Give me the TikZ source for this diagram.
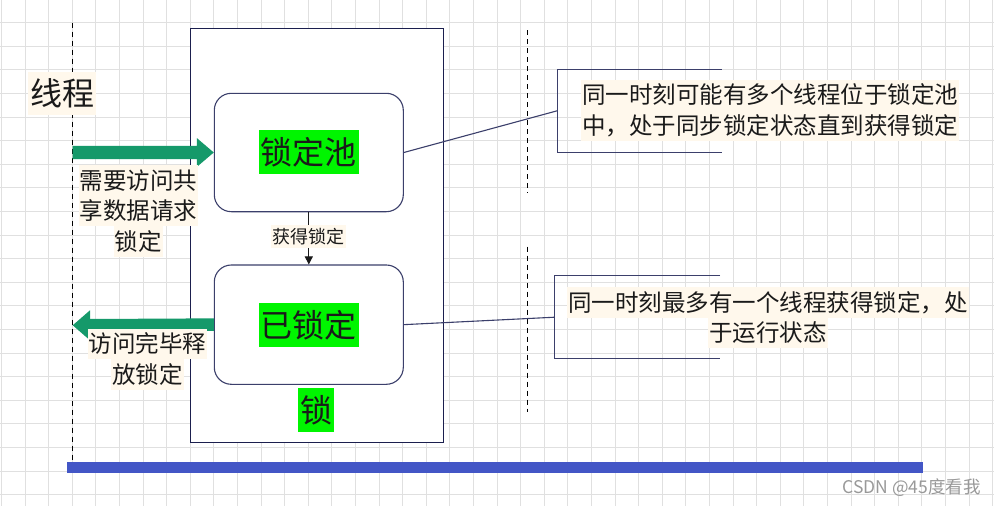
\documentclass[tikz,border=0pt]{standalone}
\usepackage{fontspec}
\setmainfont{Noto Sans CJK SC}
\usetikzlibrary{arrows.meta,calc}
\definecolor{cream}{HTML}{FFF8EC}
\definecolor{gridc}{HTML}{E0E0E0}
\definecolor{lockgreen}{HTML}{00F500}
\definecolor{arrowgreen}{HTML}{15996A}
\definecolor{barblue}{HTML}{4356C6}
\definecolor{navy}{HTML}{1B1F4E}
\definecolor{connc}{HTML}{3B3F6B}
\definecolor{txt}{HTML}{1A1A1A}
\newcommand\crebg[1]{{\setlength\fboxsep{0pt}\colorbox{cream}{\rule[-6.5pt]{0pt}{30.5pt}\hspace{1pt}#1\hspace{1pt}}}}
\tikzset{
  gridline/.style={draw=gridc, line width=1pt},
  dashline/.style={draw=black, line width=1.2pt, dash pattern=on 5pt off 4pt},
  outerbox/.style={draw=navy, fill=white, line width=1.2pt, inner sep=0pt},
  roundbox/.style={draw=connc, fill=white, line width=1.1pt, rounded corners=17pt, inner sep=0pt, minimum width=189pt},
  glab/.style={fill=lockgreen, text=txt, inner xsep=1.8pt, inner ysep=0pt, text height=34.2pt, text depth=10pt, font=\fontsize{32}{38}\selectfont},
  thlab/.style={fill=cream, text=txt, inner xsep=1.85pt, inner ysep=0pt, text height=33.8pt, text depth=9.5pt, font=\fontsize{32}{38}\selectfont},
  smalllab/.style={fill=cream, text=txt, inner xsep=1.35pt, inner ysep=0pt, text height=18.2pt, text depth=4.5pt, font=\fontsize{18}{22}\selectfont},
  blocktxt/.style={text=txt, inner sep=0pt, font=\fontsize{23.5}{30.5}\selectfont},
  conn/.style={draw=connc, line width=1.1pt},
  calloutarea/.style={inner sep=0pt},
  garrow/.style={fill=arrowgreen},
}
\begin{document}
\begin{tikzpicture}[x=1pt,y=-1pt]
\useasboundingbox (0,0) rectangle (994,506);
\fill[white] (0,0) rectangle (994,506);
% grid
\foreach \i in {0,...,42} \draw[gridline] ({1.4+23.6*\i},0) -- ({1.4+23.6*\i},506);
\foreach \j in {0,...,20} \draw[gridline] (0,{22.7+23.6*\j}) -- (994,{22.7+23.6*\j});
% outer lock box
\node[outerbox, minimum width=252.6pt, minimum height=414pt] (lock) at (317,235.3) {};
% dashed lines
\coordinate (dA1) at (72.7,22.7);
\coordinate (dA2) at (72.7,462);
\coordinate (dB1) at (527.3,30);
\coordinate (dB2) at (527.3,193);
\coordinate (dC1) at (527.3,246.7);
\coordinate (dC2) at (527.3,411.7);
\draw[dashline] (dA1) -- (dA2);
\draw[dashline] (dB1) -- (dB2);
\draw[dashline] (dC1) -- (dC2);
% blue bar
\fill[barblue] (67,462) rectangle (922.7,472.7);
% inner boxes
\node[roundbox, minimum height=118.4pt] (b1) at (308.8,152.5) {};
\node[roundbox, minimum height=119.3pt] (b2) at (308.8,324.65) {};
\node[glab] (t1) at (308.8,152.2) {锁定池};
\node[glab] (t2) at (308.8,325.3) {已锁定};
\node[glab] (t3) at (316.2,410.3) {锁};
% small arrow between boxes
\draw[draw=txt, line width=1pt, -{Triangle[length=8pt,width=8pt]}] (b1.south) -- (b2.north)
  node[smalllab, pos=0.46] (acq) {获得锁定};
% green arrows
\coordinate (a1s) at (72.7,152.5);
\fill[garrow] ($(a1s)+(0,-6.65)$) -- ($(b1.west)+(-17,-6.65)$) -- ($(b1.west)+(-17,-14.5)$) -- (b1.west)
  -- ($(b1.west)+(-17,14.5)$) -- ($(b1.west)+(-17,6.65)$) -- ($(a1s)+(0,6.65)$) -- cycle;
\coordinate (a2e) at (72.7,325.3);
\fill[garrow] ($(b2.west)+(0,-6.3)$) -- ($(a2e)+(17.3,-6.3)$) -- ($(a2e)+(17.3,-15)$) -- (a2e)
  -- ($(a2e)+(17.3,15)$) -- ($(a2e)+(17.3,6.3)$) -- ($(b2.west)+(0,6.3)$) -- cycle;
% labels
\node[thlab] (thread) at (62.2,93.35) {线程};
\node[blocktxt, align=center] (req) at (138.3,211) {\crebg{需要访问共}\\\crebg{享数据请求}\\\crebg{锁定}};
\node[blocktxt, align=center] (rel) at (147.3,359.2) {\crebg{访问完毕释}\\\crebg{放锁定}};
% callouts
\node[calloutarea, minimum width=164.4pt, minimum height=83pt] (c1) at (639.5,110.8) {};
\node[calloutarea, minimum width=165pt, minimum height=82.3pt] (c2) at (637.5,317.2) {};
\draw[conn] (c1.north east) -- (c1.north west) -- (c1.south west) -- (c1.south east);
\draw[conn] (c2.north east) -- (c2.north west) -- (c2.south west) -- (c2.south east);
\draw[conn] (b1.east) -- (c1.west);
\draw[conn] (b2.east) -- (c2.west);
\node[blocktxt, align=left] (n1) at (770,110.3) {\crebg{同一时刻可能有多个线程位于锁定池}\\\crebg{中，处于同步锁定状态直到获得锁定}};
\node[blocktxt, align=center] (n2) at (768,317.5) {\crebg{同一时刻最多有一个线程获得锁定，处}\\\crebg{于运行状态}};
% watermark
\node[text=black!40, inner sep=0pt, font=\fontsize{17.5}{20}\selectfont] (wm) at (911.5,488) {CSDN @45度看我};
\end{tikzpicture}
\end{document}
